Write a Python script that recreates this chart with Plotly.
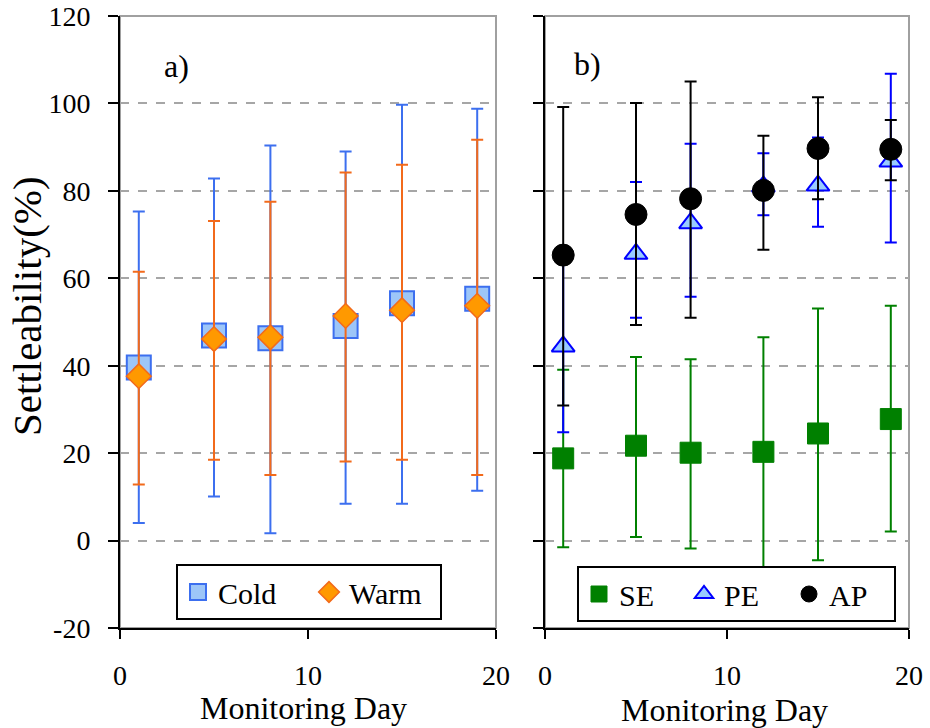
import plotly.graph_objects as go

# ---------------- data ----------------
days = [1, 5, 8, 12, 15, 19]

cold_mean = [39.6, 46.9, 46.3, 49.1, 54.3, 55.3]
cold_upper = [75.3, 82.8, 90.4, 89.0, 99.7, 98.8]
cold_lower = [4.0, 10.1, 1.7, 8.4, 8.4, 11.4]

warm_mean = [37.6, 46.1, 46.5, 51.4, 52.7, 53.7]
warm_upper = [61.5, 73.1, 77.5, 84.2, 86.0, 91.7]
warm_lower = [12.8, 18.5, 15.0, 18.1, 18.5, 15.0]

se_mean = [18.8, 21.7, 20.1, 20.3, 24.5, 27.8]
se_upper = [39.1, 42.0, 41.5, 46.5, 53.1, 53.7]
se_lower = [-1.5, 0.8, -1.8, -6.5, -4.5, 2.1]

pe_mean = [44.4, 65.6, 72.6, 81.0, 81.2, 86.7]
pe_upper = [65.4, 82.0, 90.8, 88.6, 92.2, 106.8]
pe_lower = [24.8, 51.0, 55.8, 74.4, 71.8, 68.2]

ap_mean = [65.3, 74.6, 78.2, 80.1, 89.7, 89.5]
ap_upper = [99.2, 100.1, 105.0, 92.6, 101.4, 96.2]
ap_lower = [30.9, 49.3, 51.0, 66.5, 78.1, 82.4]

y_ticks = [-20, 0, 20, 40, 60, 80, 100, 120]
y_ticktext = ["-20", "0", "20", "40", "60", "80", "100", "120"]
x_ticks = [0, 10, 20]

W, H = 930, 728
SERIF = "Liberation Serif"


def err(mean, upper, lower, color):
    return dict(
        type="data", symmetric=False,
        array=[u - m for u, m in zip(upper, mean)],
        arrayminus=[m - l for m, l in zip(mean, lower)],
        color=color, thickness=2, width=6,
    )


fig = go.Figure()

# panel a
fig.add_trace(go.Scatter(
    x=days, y=cold_mean, mode="markers", name="Cold",
    marker=dict(symbol="square", size=24, color="#9DC6F8",
                line=dict(color="#3C6FEF", width=2)),
    error_y=err(cold_mean, cold_upper, cold_lower, "#3C6FEF"),
    xaxis="x", yaxis="y", legend="legend",
))
fig.add_trace(go.Scatter(
    x=days, y=warm_mean, mode="markers", name="Warm",
    marker=dict(symbol="diamond", size=19, color="#FF9900",
                line=dict(color="#F26A1B", width=1.5)),
    error_y=err(warm_mean, warm_upper, warm_lower, "#F26A1B"),
    xaxis="x", yaxis="y", legend="legend",
))

# panel b
fig.add_trace(go.Scatter(
    x=days, y=se_mean, mode="markers", name="SE",
    marker=dict(symbol="square", size=21, color="#008000",
                line=dict(color="#008000", width=1)),
    error_y=err(se_mean, se_upper, se_lower, "#008000"),
    xaxis="x2", yaxis="y2", legend="legend2",
))
fig.add_trace(go.Scatter(
    x=days, y=pe_mean, mode="markers", name="PE",
    marker=dict(symbol="triangle-up", size=20, color="#99CCFF",
                line=dict(color="#0000FF", width=2)),
    error_y=err(pe_mean, pe_upper, pe_lower, "#0000FF"),
    xaxis="x2", yaxis="y2", legend="legend2",
))
fig.add_trace(go.Scatter(
    x=days, y=ap_mean, mode="markers", name="AP",
    marker=dict(symbol="circle", size=22, color="#000000",
                line=dict(color="#000000", width=1)),
    error_y=err(ap_mean, ap_upper, ap_lower, "#000000"),
    xaxis="x2", yaxis="y2", legend="legend2",
))

ydom = [1 - 628 / H, 1 - 16 / H]
xdom1 = [120 / W, 496 / W]
xdom2 = [545 / W, 909 / W]

xcommon = dict(
    range=[0, 20], tickvals=x_ticks, ticks="outside", ticklen=9, tickwidth=2,
    tickcolor="black", showline=True, linecolor="black", linewidth=2,
    showgrid=False, zeroline=False, ticklabelstandoff=12, automargin=False,
    tickfont=dict(family=SERIF, size=28, color="black"),
)
ycommon = dict(
    range=[-20, 120], tickvals=y_ticks, ticktext=y_ticktext, ticks="outside",
    ticklen=10, tickwidth=2,
    tickcolor="black", showline=True, linecolor="black", linewidth=2,
    showgrid=True, gridcolor="#A6A6A6", griddash="dash", gridwidth=1.5,
    zeroline=False, domain=ydom, automargin=False,
    tickfont=dict(family=SERIF, size=28, color="black"),
)

legend_common = dict(
    orientation="h", xanchor="left", yanchor="top",
    bordercolor="black", borderwidth=2, bgcolor="white",
    font=dict(family=SERIF, size=30, color="black"),
    itemwidth=30, tracegroupgap=0, entrywidthmode="pixels",
)

fig.update_layout(
    template="none",
    width=W, height=H,
    margin=dict(l=0, r=0, t=0, b=0, autoexpand=False),
    paper_bgcolor="white", plot_bgcolor="white",
    showlegend=True,
    xaxis=dict(domain=xdom1, anchor="y", **xcommon),
    yaxis=dict(anchor="x", ticklabelstandoff=12, **ycommon),
    xaxis2=dict(domain=xdom2, anchor="y2", **xcommon),
    yaxis2=dict(anchor="x2", showticklabels=False, **ycommon),
    legend=dict(x=176 / W, y=1 - 564 / H, entrywidth=86, **legend_common),
    legend2=dict(x=577 / W, y=1 - 566 / H, entrywidth=60, **legend_common),
    shapes=[
        dict(type="rect", xref="x domain", yref="y domain", x0=0, x1=1, y0=0, y1=1,
             line=dict(color="#A0A0A0", width=2), layer="below"),
        dict(type="rect", xref="x2 domain", yref="y2 domain", x0=0, x1=1, y0=0, y1=1,
             line=dict(color="#A0A0A0", width=2), layer="below"),
    ],
    annotations=[
        dict(text="a)", x=176 / W, y=1 - 66 / H, xref="paper", yref="paper",
             xanchor="center", yanchor="middle",
             showarrow=False, font=dict(family=SERIF, size=32, color="black")),
        dict(text="b)", x=587 / W, y=1 - 64 / H, xref="paper", yref="paper",
             xanchor="center", yanchor="middle",
             showarrow=False, font=dict(family=SERIF, size=32, color="black")),
        dict(text="Settleability(%)", x=27 / W, y=1 - 306 / H, xref="paper", yref="paper",
             xanchor="center", yanchor="middle",
             textangle=-90, showarrow=False,
             font=dict(family=SERIF, size=41, color="black")),
        dict(text="Monitoring Day", x=303 / W, y=1 - 708 / H, xref="paper", yref="paper",
             xanchor="center", yanchor="middle",
             showarrow=False, font=dict(family=SERIF, size=32, color="black")),
        dict(text="Monitoring Day", x=724 / W, y=1 - 710 / H, xref="paper", yref="paper",
             xanchor="center", yanchor="middle",
             showarrow=False, font=dict(family=SERIF, size=32, color="black")),
    ],
)

fig.write_html("out.html")
